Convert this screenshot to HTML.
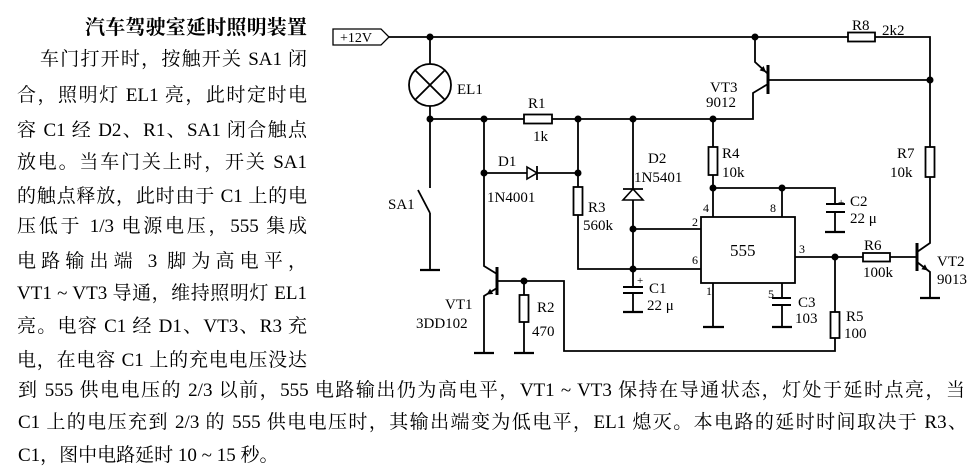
<!DOCTYPE html>
<html><head><meta charset="utf-8">
<style>
html,body{margin:0;padding:0;background:#fff;}
body{width:979px;height:474px;position:relative;overflow:hidden;}
.l{position:absolute;font-family:"Liberation Serif","Noto Serif CJK SC",serif;font-size:19px;line-height:20px;height:20px;color:#000;text-align:justify;text-align-last:justify;}
.t{position:absolute;font-family:"Liberation Serif","Noto Serif CJK SC",serif;font-size:20px;font-weight:bold;line-height:20px;color:#000;text-align:justify;text-align-last:justify;}
svg{position:absolute;left:0;top:0;}
svg text{font-family:"Liberation Serif",serif;font-size:15px;fill:#000;}
</style></head><body>
<div class="t" style="left:85px;top:18px;width:222px;">汽车驾驶室延时照明装置</div>
<div class="l" style="left:40px;top:50px;width:267px;">车门打开时，按触开关 SA1 闭</div>
<div class="l" style="left:17px;top:86px;width:290px;">合，照明灯 EL1 亮，此时定时电</div>
<div class="l" style="left:17px;top:121px;width:290px;">容 C1 经 D2、R1、SA1 闭合触点</div>
<div class="l" style="left:17px;top:153px;width:290px;">放电。当车门关上时，开关 SA1</div>
<div class="l" style="left:17px;top:187px;width:290px;">的触点释放，此时由于 C1 上的电</div>
<div class="l" style="left:17px;top:217px;width:290px;">压低于 1/3 电源电压，555 集成</div>
<div class="l" style="left:17px;top:252px;width:290px;">电路输出端 3 脚为高电平，</div>
<div class="l" style="left:17px;top:284px;width:290px;">VT1 ~ VT3 导通，维持照明灯 EL1</div>
<div class="l" style="left:17px;top:317px;width:290px;">亮。电容 C1 经 D1、VT3、R3 充</div>
<div class="l" style="left:17px;top:351px;width:290px;">电，在电容 C1 上的充电电压没达</div>
<div class="l" style="left:18px;top:381px;width:947px;">到 555 供电电压的 2/3 以前，555 电路输出仍为高电平，VT1 ~ VT3 保持在导通状态，灯处于延时点亮，当</div>
<div class="l" style="left:18px;top:413px;width:949px;">C1 上的电压充到 2/3 的 555 供电电压时，其输出端变为低电平，EL1 熄灭。本电路的延时时间取决于 R3、</div>
<div class="l" style="left:18px;top:446px;width:400px;white-space:nowrap;text-align:left;text-align-last:left;">C1，图中电路延时 10 ~ 15 秒。</div>

<svg width="979" height="474" viewBox="0 0 979 474">
<g fill="none" stroke="#000" stroke-width="1.8" stroke-linejoin="miter">
  <path d="M333,29 L381,29 L389,37 L381,45 L333,45 Z" stroke-width="1.3"/>
  <path d="M389,37 L848,37 M875,37 L930,37 L930,147"/>
  <rect x="848" y="32.5" width="27" height="9"/>
  <path d="M430,37 L430,64 M430,106 L430,119"/>
  <circle cx="430" cy="85" r="21"/>
  <path d="M415.2,70.2 L444.8,99.8 M444.8,70.2 L415.2,99.8"/>
  <path d="M430,119 L524,119 M552,119 L753,119 L753,93 L768,84"/>
  <rect x="524" y="114.5" width="28" height="9"/>
  <path d="M768,65 L768,94" stroke-width="3"/>
  <path d="M755,37 L755,62 L768,74"/>
  <path d="M768,80 L930,80"/>
  <rect x="925.5" y="147" width="9" height="30"/>
  <path d="M930,177 L930,243 L917,252"/>
  <path d="M917,243 L917,271" stroke-width="3"/>
  <path d="M917,262 L930,272 L930,298"/>
  <path d="M920,298 L940,298" stroke-width="2.2"/>
  <path d="M890,257 L917,257"/>
  <rect x="863" y="253" width="27" height="8.5"/>
  <path d="M795,257 L863,257"/>
  <path d="M835,257 L835,312 M835,338 L835,351 L564,351 L564,281 L497,281"/>
  <rect x="830.5" y="312" width="9" height="26"/>
  <path d="M524,281 L524,295 M524,322 L524,353"/>
  <rect x="519.5" y="295" width="9" height="27"/>
  <path d="M514,353 L534,353" stroke-width="2.2"/>
  <path d="M497,267 L497,295" stroke-width="3"/>
  <path d="M484,119 L484,266 L497,274"/>
  <path d="M497,288 L484,296 L484,353"/>
  <path d="M474,353 L494,353" stroke-width="2.2"/>
  <path d="M484,173 L527,173 M537,173 L578,173"/>
  <path d="M537,166 L537,180"/>
  <path d="M578,119 L578,187 M578,215 L578,269 L701,269"/>
  <rect x="573.5" y="187" width="9" height="28"/>
  <path d="M633,119 L633,189 M633,200 L633,287 M633,293 L633,312"/>
  <path d="M623,189 L643,189"/>
  <path d="M623,287 L643,287 M623,293 L643,293" stroke-width="2"/>
  <path d="M623,312 L643,312" stroke-width="2.2"/>
  <path d="M633,229 L701,229"/>
  <path d="M430,119 L430,188 M418,190 L430,213 M430,213 L430,270"/>
  <path d="M420,270 L440,270" stroke-width="2.2"/>
  <path d="M713,119 L713,147 M713,175 L713,217"/>
  <rect x="708.5" y="147" width="9" height="28"/>
  <path d="M713,188 L835,188 L835,204 M835,212 L835,232"/>
  <path d="M782,188 L782,217"/>
  <path d="M826,204 L845,204 M826,212 L845,212" stroke-width="2"/>
  <path d="M825,232 L845,232" stroke-width="2.2"/>
  <rect x="701" y="217" width="94" height="66"/>
  <path d="M713,283 L713,327 M782,283 L782,298 M782,305 L782,327"/>
  <path d="M703,327 L724,327 M772,327 L792,327" stroke-width="2.2"/>
  <path d="M772,298 L791,298 M772,305 L791,305" stroke-width="2"/>
</g>
<g fill="#fff" stroke="#000" stroke-width="1.6">
  <path d="M527,167 L527,179 L537,173 Z"/>
  <path d="M633,189 L623,200 L643,200 Z"/>
</g>
<g fill="#000" stroke="none">
  <path d="M766,72.3 L759.6,70.4 L763.6,66 Z"/>
  <path d="M486.5,294.5 L490,288.8 L493.2,294 Z"/>
  <path d="M928,270.5 L921.4,269.2 L925,264.4 Z"/>
  <circle cx="430" cy="37" r="3.5"/>
  <circle cx="755" cy="37" r="3.5"/>
  <circle cx="930" cy="80" r="3.5"/>
  <circle cx="430" cy="119" r="3.5"/>
  <circle cx="484" cy="119" r="3.5"/>
  <circle cx="578" cy="119" r="3.5"/>
  <circle cx="633" cy="119" r="3.5"/>
  <circle cx="713" cy="119" r="3.5"/>
  <circle cx="484" cy="173" r="3.5"/>
  <circle cx="578" cy="173" r="3.5"/>
  <circle cx="633" cy="229" r="3.5"/>
  <circle cx="633" cy="269" r="3.5"/>
  <circle cx="524" cy="281" r="3.5"/>
  <circle cx="713" cy="188" r="3.5"/>
  <circle cx="782" cy="188" r="3.5"/>
  <circle cx="835" cy="257" r="3.5"/>
</g>
<text x="340" y="42" style="font-size:14px">+12V</text>
<text x="457" y="94">EL1</text>
<text x="528" y="108">R1</text>
<text x="533" y="141">1k</text>
<text x="498" y="166">D1</text>
<text x="487" y="202">1N4001</text>
<text x="648" y="163">D2</text>
<text x="634" y="182">1N5401</text>
<text x="588" y="212">R3</text>
<text x="583" y="230">560k</text>
<text x="388" y="209">SA1</text>
<text x="445" y="309">VT1</text>
<text x="416" y="328">3DD102</text>
<text x="537" y="312">R2</text>
<text x="532" y="336">470</text>
<text x="649" y="293">C1</text>
<text x="647" y="310">22 μ</text>
<text x="637" y="284" style="font-size:11px">+</text>
<text x="710" y="92">VT3</text>
<text x="706" y="107">9012</text>
<text x="852" y="30">R8</text>
<text x="882" y="35">2k2</text>
<text x="722" y="158">R4</text>
<text x="722" y="177">10k</text>
<text x="897" y="158">R7</text>
<text x="890" y="177">10k</text>
<text x="850" y="206">C2</text>
<text x="850" y="223">22 μ</text>
<text x="838" y="206" style="font-size:11px">+</text>
<text x="730" y="256" style="font-size:17px">555</text>
<text x="703" y="212" style="font-size:12px">4</text>
<text x="770" y="212" style="font-size:12px">8</text>
<text x="692" y="226" style="font-size:12px">2</text>
<text x="692" y="264" style="font-size:12px">6</text>
<text x="799" y="253" style="font-size:12px">3</text>
<text x="706" y="295" style="font-size:12px">1</text>
<text x="768" y="298" style="font-size:12px">5</text>
<text x="798" y="307">C3</text>
<text x="795" y="323">103</text>
<text x="846" y="321">R5</text>
<text x="844" y="338">100</text>
<text x="864" y="250">R6</text>
<text x="863" y="277">100k</text>
<text x="937" y="266">VT2</text>
<text x="937" y="284">9013</text>
</svg>
</body></html>
